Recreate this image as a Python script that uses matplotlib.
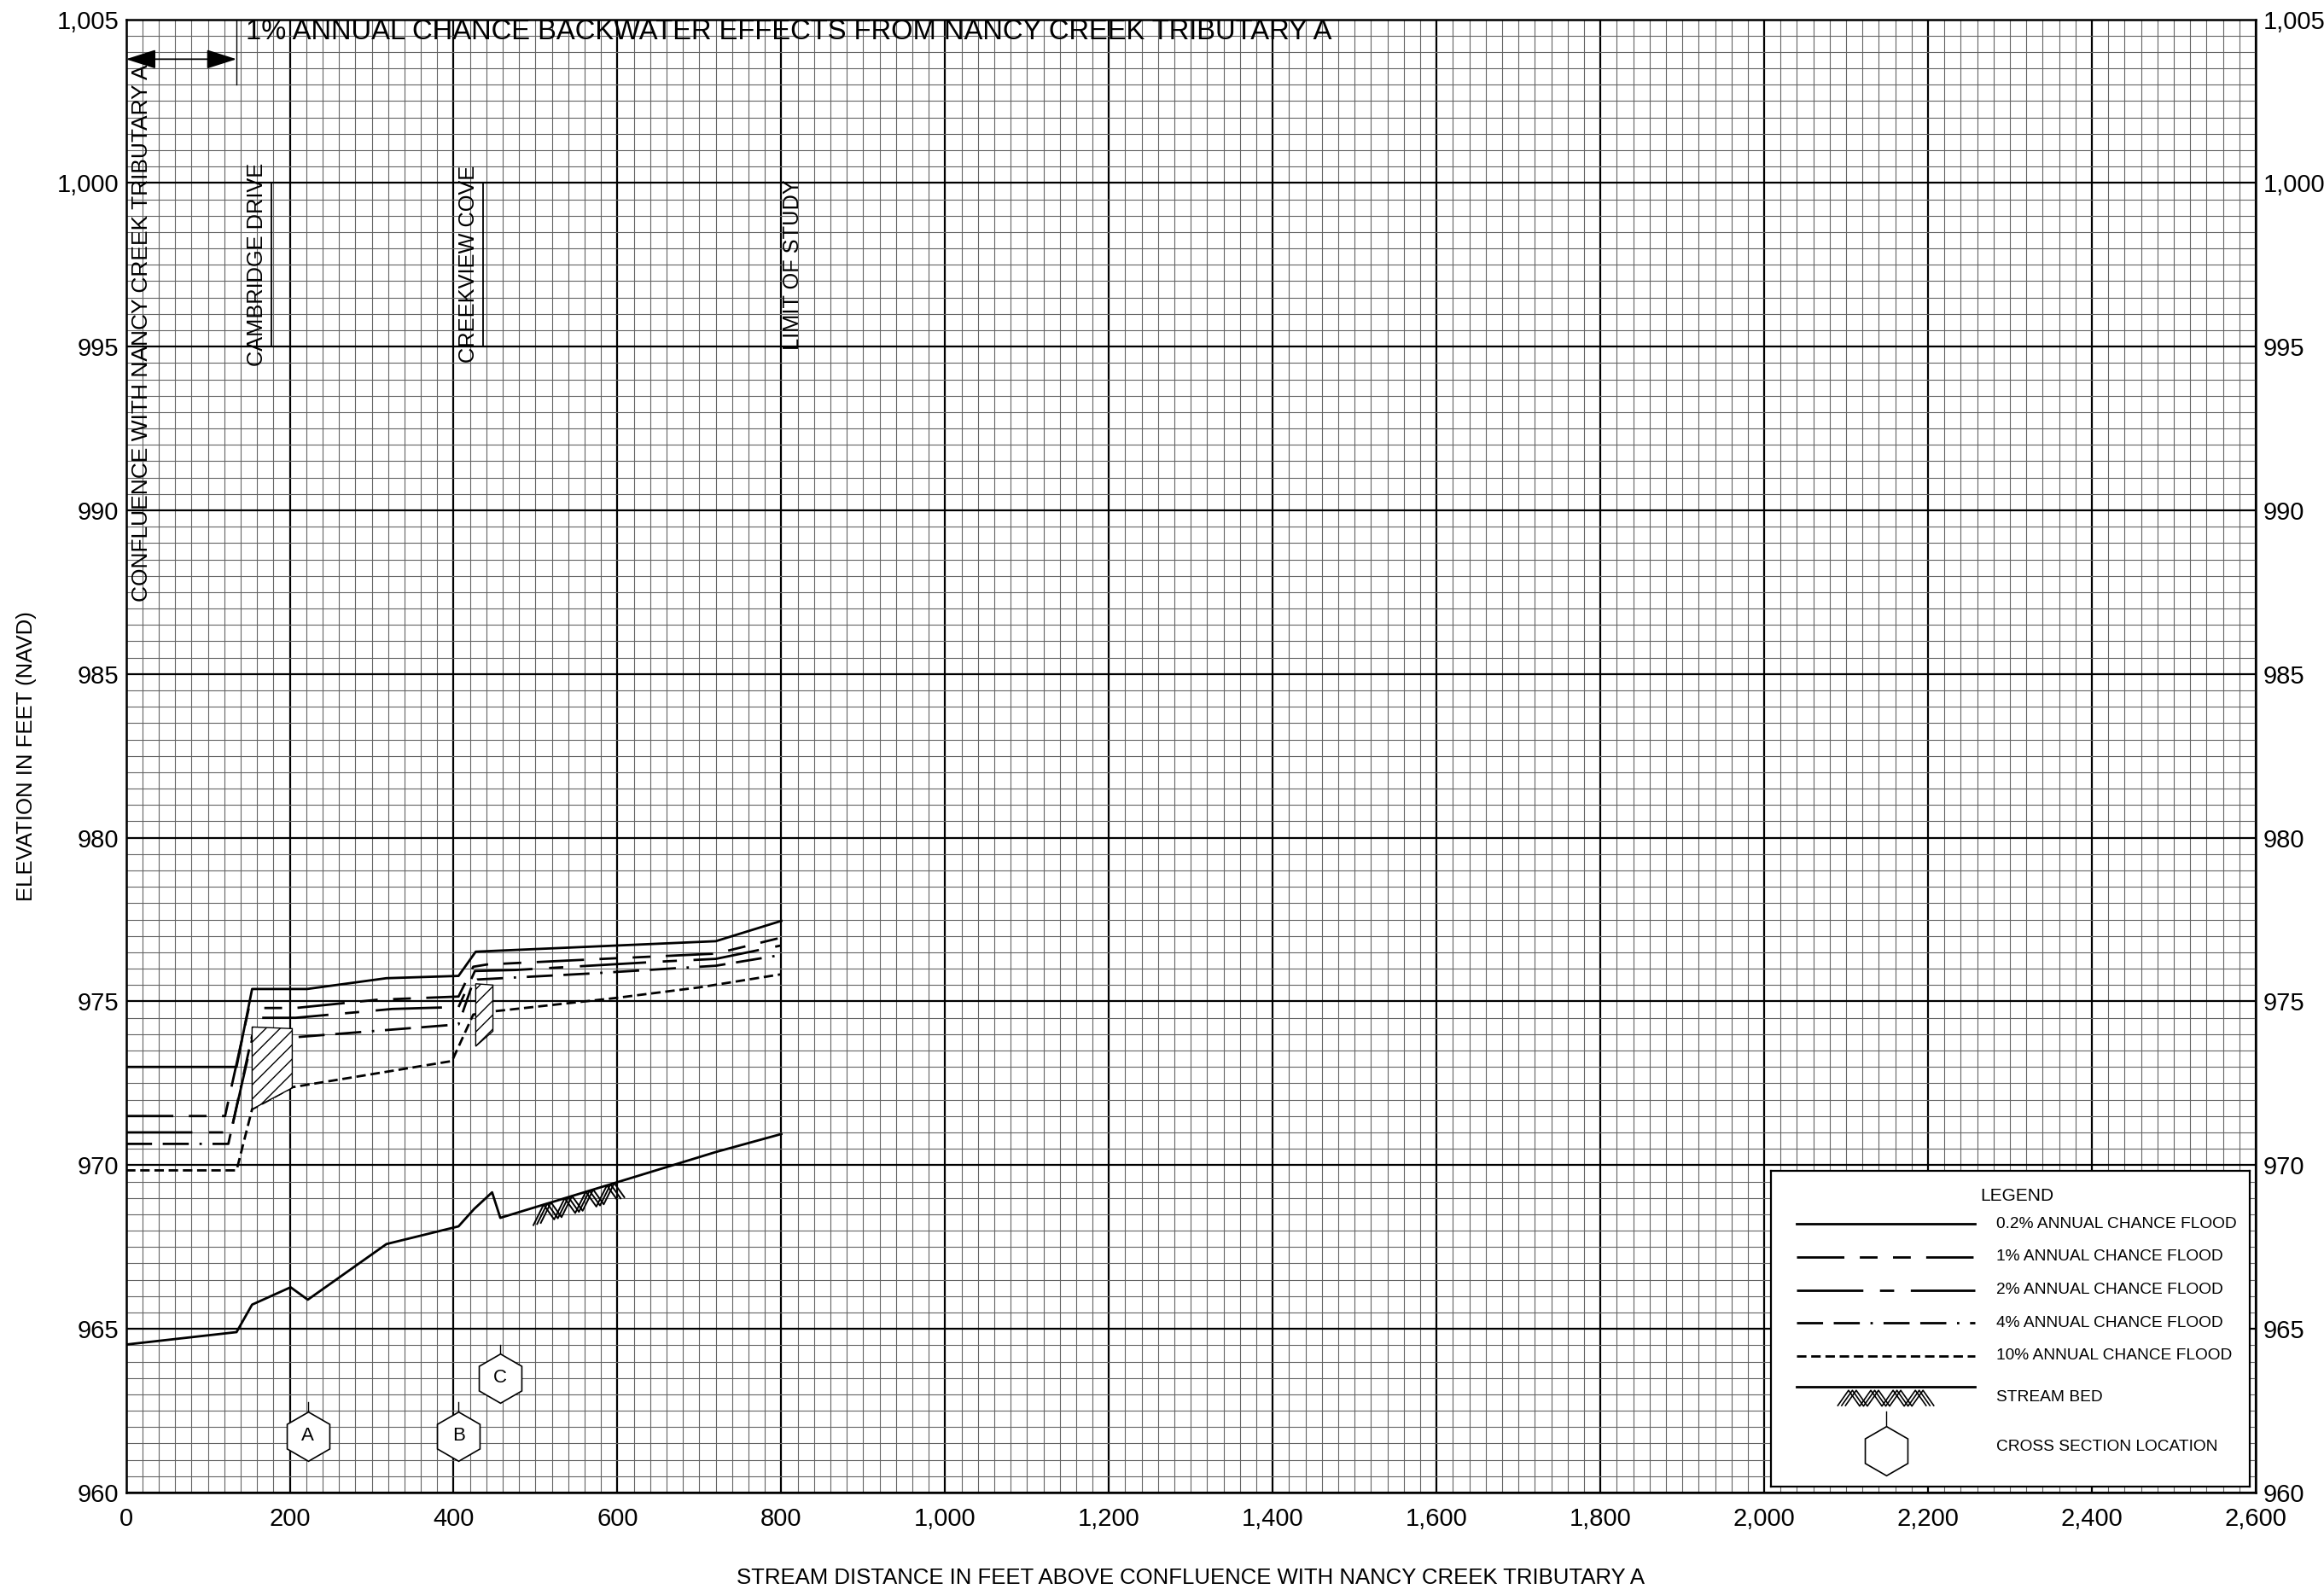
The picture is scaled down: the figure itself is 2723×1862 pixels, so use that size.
import matplotlib
matplotlib.use("Agg")
import matplotlib.pyplot as plt
import numpy as np
from matplotlib.patches import Polygon
from matplotlib.ticker import FuncFormatter

plt.rcParams["font.family"] = ["Liberation Sans", "DejaVu Sans"]
plt.rcParams["lines.scale_dashes"] = False
plt.rcParams["hatch.linewidth"] = 1.0

# ---- water-surface profiles (distance ft, elevation ft NAVD) ----
X_02 = [0, 135, 154, 221, 318, 406, 427, 720, 800]
Y_02 = [973.0, 973.0, 975.38, 975.38, 975.71, 975.78, 976.52, 976.84, 977.46]

X_1 = [0, 121, 150, 207, 306, 406, 424, 441, 582, 720, 800]
Y_1 = [971.5, 971.5, 974.8, 974.8, 975.05, 975.15, 976.06, 976.13, 976.3, 976.46, 976.95]

X_2 = [0, 128, 160, 207, 325, 406, 426, 475, 655, 720, 800]
Y_2 = [971.0, 971.0, 974.5, 974.5, 974.77, 974.83, 975.93, 975.96, 976.22, 976.3, 976.71]

X_4 = [0, 125, 154, 203, 406, 424, 429, 572, 720, 800]
Y_4 = [970.65, 970.65, 973.95, 973.9, 974.3, 975.6, 975.67, 975.86, 976.09, 976.42]

X_10 = [0, 135, 154, 203, 398, 424, 450, 596, 700, 800]
Y_10 = [969.84, 969.84, 971.71, 972.38, 973.18, 974.6, 974.7, 975.1, 975.43, 975.83]

# stream bed
X_BED = [0, 135, 154, 201, 222, 318, 406, 425, 447, 457, 600, 720, 800]
Y_BED = [964.52, 964.9, 965.74, 966.27, 965.89, 967.59, 968.13, 968.66, 969.17, 968.39,
         969.48, 970.4, 970.95]

# culverts (hatched): left x, right x, top-left, top-right, bottom-right, bottom-left
CULVERTS = [
    (154, 203, 974.22, 974.17, 972.36, 971.71),
    (427, 448, 975.54, 975.50, 974.09, 973.63),
]

# cross sections
XS_LABELS = ["A", "B", "C"]
XS_X = [222, 406, 457]
XS_Y = [961.73, 961.73, 963.5]

# road / reach annotations
ROADS = ["CAMBRIDGE DRIVE", "CREEKVIEW COVE", "LIMIT OF STUDY"]
ROAD_TEXT_X = [160, 418, 814]
ROAD_TEXT_Y = [994.4, 994.5, 994.9]
ROAD_LINE_X = [178, 436, None]

DASH_1 = (0, (40, 13, 15, 13, 15, 13))
DASH_2 = (0, (56, 14, 12, 14))
DASH_4 = (0, (22, 9, 22, 9, 2, 9))
DASH_10 = (0, (8, 4))
LW = 2.0

SERIES = [
    ("0.2% ANNUAL CHANCE FLOOD", X_02, Y_02, "-"),
    ("1% ANNUAL CHANCE FLOOD", X_1, Y_1, DASH_1),
    ("2% ANNUAL CHANCE FLOOD", X_2, Y_2, DASH_2),
    ("4% ANNUAL CHANCE FLOOD", X_4, Y_4, DASH_4),
    ("10% ANNUAL CHANCE FLOOD", X_10, Y_10, DASH_10),
]


def zigzag(ax, x0, x1, ytop, depth, offsets, n_peaks=4, lw=1.4):
    xs = np.linspace(x0, x1, 2 * n_peaks + 1)
    for off in offsets:
        pts_x, pts_y = [], []
        for i, xv in enumerate(xs):
            pts_x.append(xv + off)
            top = ytop(xv + off)
            pts_y.append(top if i % 2 else top - depth)
        ax.plot(pts_x, pts_y, color="black", lw=lw, solid_capstyle="butt", zorder=4)


def main():
    fig = plt.figure(figsize=(27.23, 18.62), dpi=100)
    ax = fig.add_axes([0.0542, 0.0607, 0.9164, 0.9272])

    ax.set_xlim(0, 2600)
    ax.set_ylim(960, 1005)
    ax.set_xticks(np.arange(0, 2601, 200))
    ax.set_yticks(np.arange(960, 1006, 5))
    ax.set_xticks(np.arange(0, 2601, 20), minor=True)
    ax.set_yticks(np.arange(960, 1005.1, 0.5), minor=True)
    fmt = FuncFormatter(lambda v, p: f"{int(round(v)):,}")
    ax.xaxis.set_major_formatter(fmt)
    ax.yaxis.set_major_formatter(fmt)
    ax.set_axisbelow(True)
    ax.grid(which="minor", color="#646464", lw=0.8)
    ax.grid(which="major", color="black", lw=1.6)
    ax.tick_params(which="both", length=0, labelsize=21)
    ax.tick_params(axis="y", labelleft=True, labelright=True, pad=6)
    ax.tick_params(axis="x", pad=12)
    for s in ax.spines.values():
        s.set_linewidth(1.8)

    ax.set_xlabel("STREAM DISTANCE IN FEET ABOVE CONFLUENCE WITH NANCY CREEK TRIBUTARY A",
                  fontsize=18.5)
    ax.xaxis.set_label_coords(0.5, -0.051)
    ax.set_ylabel("ELEVATION IN FEET (NAVD)", fontsize=18.5)
    ax.yaxis.set_label_coords(-0.042, 0.5)

    # profiles
    for label, xs, ys, ls in SERIES:
        ax.plot(xs, ys, color="black", lw=LW, ls=ls, dash_capstyle="butt", zorder=3)
    ax.plot(X_BED, Y_BED, color="black", lw=LW, zorder=3)
    zigzag(ax, 497, 600, lambda v: np.interp(v, X_BED, Y_BED), 0.55, [0, 4.5, 9])

    # culverts
    for xl, xr, ytl, ytr, ybr, ybl in CULVERTS:
        poly = Polygon([(xl, ytl), (xr, ytr), (xr, ybr), (xl, ybl)], closed=True,
                       facecolor="white", edgecolor="black", lw=1.0, hatch="//", zorder=4)
        ax.add_patch(poly)

    # cross-section hexagons
    for lab, xv, yv in zip(XS_LABELS, XS_X, XS_Y):
        ax.plot([xv, xv], [yv + 0.75, yv + 1.02], color="black", lw=1.0, zorder=5)
        ax.plot(xv, yv, marker="h", ms=41.5, mfc="white", mec="black", mew=1.2,
                ls="none", zorder=6)
        ax.text(xv, yv, lab, ha="center", va="center", fontsize=16, zorder=7)

    # road annotations
    for name, tx, ty, lx in zip(ROADS, ROAD_TEXT_X, ROAD_TEXT_Y, ROAD_LINE_X):
        ax.text(tx, ty, name, rotation=90, ha="center", va="bottom", fontsize=18.3)
        if lx is not None:
            ax.plot([lx, lx], [995, 1000], color="black", lw=1.3)
    ax.text(19, 987.2, "CONFLUENCE WITH NANCY CREEK TRIBUTARY A", rotation=90,
            ha="center", va="bottom", fontsize=19)

    # backwater note
    ax.text(146, 1004.6, "1% ANNUAL CHANCE BACKWATER EFFECTS FROM NANCY CREEK TRIBUTARY A",
            ha="left", va="center", fontsize=23.6)
    ax.annotate("", xy=(0, 1003.78), xytext=(135, 1003.78),
                arrowprops=dict(arrowstyle="<|-|>,head_length=1.1,head_width=0.35",
                                mutation_scale=20, color="black", lw=1.3,
                                shrinkA=0, shrinkB=0))
    ax.plot([135, 135], [1003.0, 1005], color="black", lw=1.0)

    # legend box
    lg = fig.add_axes([0.762, 0.0644, 0.206, 0.1988])
    lg.set_xlim(0, 1)
    lg.set_ylim(0, 1)
    lg.set_xticks([])
    lg.set_yticks([])
    for s in lg.spines.values():
        s.set_linewidth(1.6)
    lg.text(0.514, 0.92, "LEGEND", ha="center", va="center", fontsize=15)
    rows_y = [0.831, 0.727, 0.622, 0.518, 0.414]
    for (label, xs, ys, ls), ry in zip(SERIES, rows_y):
        lg.plot([0.053, 0.427], [ry, ry], color="black", lw=LW, ls=ls, dash_capstyle="butt")
        lg.text(0.471, ry, label, ha="left", va="center", fontsize=13.8)
    lg.plot([0.053, 0.427], [0.315, 0.315], color="black", lw=LW)
    zigzag(lg, 0.139, 0.325, lambda v: 0.305, 0.05, [0, 0.008, 0.016], lw=1.2)
    lg.text(0.471, 0.282, "STREAM BED", ha="left", va="center", fontsize=13.8)
    lg.plot([0.241, 0.241], [0.191, 0.239], color="black", lw=1.0)
    lg.plot(0.241, 0.113, marker="h", ms=41.5, mfc="white", mec="black", mew=1.2, ls="none")
    lg.text(0.471, 0.127, "CROSS SECTION LOCATION", ha="left", va="center", fontsize=13.8)

    fig.savefig("out.png", dpi=100)
    plt.close(fig)


if __name__ == "__main__":
    main()
